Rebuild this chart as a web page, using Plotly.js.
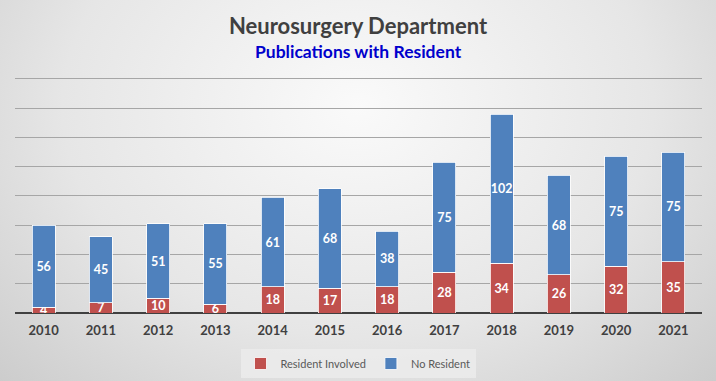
<!DOCTYPE html>
<html>
<head>
<meta charset="utf-8">
<script src="https://cdn.plot.ly/plotly-3.0.1.min.js"></script>
<style>
  html, body { margin: 0; padding: 0; }
  body { width: 716px; height: 381px; overflow: hidden;
    background: radial-gradient(ellipse 75% 110% at 50% 28%, #fafafa 0%, #e6e6e6 55%, #c8c8c8 100%); }
  #chart { width: 716px; height: 381px; }
</style>
</head>
<body>
<div id="chart"></div>
<script>
const years = ['2010','2011','2012','2013','2014','2015','2016','2017','2018','2019','2020','2021'];
const residentInvolved = [4, 7, 10, 6, 18, 17, 18, 28, 34, 26, 32, 35];
const noResident = [56, 45, 51, 55, 61, 68, 38, 75, 102, 68, 75, 75];
const mainTitle = 'Neurosurgery Department';
const subTitle = 'Publications with Resident';

const FONT = 'Lato, "Open Sans", sans-serif';
const labelFont = {family: FONT, size: 12.5, color: '#ffffff', weight: 'bold'};

const traces = [
  {
    type: 'bar', name: 'Resident Involved', x: years, y: residentInvolved,
    text: residentInvolved.map(String), textposition: 'inside', insidetextanchor: 'middle',
    textfont: labelFont, textangle: 0,
    marker: {color: '#c0504d', line: {color: '#ffffff', width: 0.8}},
    hoverinfo: 'x+y+name'
  },
  {
    type: 'bar', name: 'No Resident', x: years, y: noResident,
    text: noResident.map(String), textposition: 'inside', insidetextanchor: 'middle',
    textfont: labelFont, textangle: 0,
    marker: {color: '#4f81bd', line: {color: '#ffffff', width: 0.8}},
    hoverinfo: 'x+y+name'
  }
];

const layout = {
  width: 716, height: 381,
  paper_bgcolor: 'rgba(0,0,0,0)', plot_bgcolor: 'rgba(0,0,0,0)',
  barmode: 'stack', bargap: 0.6,
  uniformtext: {mode: 'show', minsize: 12.5},
  margin: {l: 15, r: 14, t: 77, b: 68, autoexpand: false},
  font: {family: FONT, color: '#404040'},
  title: {
    text: mainTitle,
    x: 0.5, xanchor: 'center', xref: 'container',
    y: 1 - 26.5/381, yanchor: 'middle', yref: 'container',
    font: {family: FONT, size: 22, color: '#404040', weight: 'bold'}
  },
  annotations: [{
    text: subTitle, showarrow: false,
    xref: 'paper', yref: 'paper', x: 0.5, xanchor: 'center',
    y: (313 - 51) / 236, yanchor: 'middle',
    font: {family: FONT, size: 17.5, color: '#0000cc', weight: 'bold'}
  }],
  xaxis: {
    type: 'category', showgrid: false, zeroline: false,
    showline: false, ticks: '', ticklabelstandoff: 8,
    tickfont: {family: FONT, size: 13, color: '#404040', weight: 'bold'},
    fixedrange: true
  },
  yaxis: {
    range: [0, 161.3], dtick: 20, tick0: 0, showticklabels: false,
    showgrid: true, gridcolor: '#a6a6a6', gridwidth: 1,
    zeroline: true, zerolinecolor: '#404040', zerolinewidth: 2.5,
    showline: false, ticks: '', fixedrange: true
  },
  showlegend: true,
  legend: {
    orientation: 'h', x: 0.5, xanchor: 'center', xref: 'container',
    y: 1 - 349/381, yanchor: 'top', yref: 'container',
    bgcolor: 'rgba(236,236,236,0.8)',
    font: {family: FONT, size: 11, color: '#595959'},
    itemwidth: 30, traceorder: 'normal', tracegroupgap: 0
  }
};

Plotly.newPlot('chart', traces, layout, {displayModeBar: false, staticPlot: true});
</script>
</body>
</html>
